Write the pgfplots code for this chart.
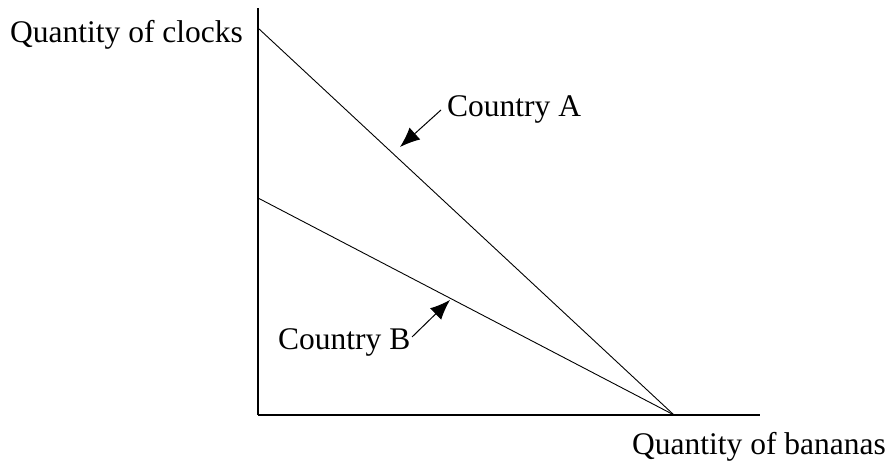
\documentclass[border=0pt]{standalone}
\usepackage{fontspec}
\setmainfont{Liberation Serif}
\usepackage{pgfplots}
\pgfplotsset{compat=1.18}
\usetikzlibrary{arrows.meta}
\begin{document}
\begin{tikzpicture}
\useasboundingbox (0pt,0pt) rectangle (890pt,462pt);
\begin{axis}[
  at={(258pt,47pt)}, anchor=origin,
  scale only axis, width=502pt, height=407pt,
  xmin=0, xmax=502, ymin=0, ymax=407,
  axis lines=left, axis line style={-, line width=1.3pt},
  ticks=none, clip=false,
  font=\fontsize{31.5}{36}\selectfont,
]
\addplot[black, line width=0.9pt, no markers] coordinates {(0,387) (416,0)};
\addplot[black, line width=0.9pt, no markers] coordinates {(0,217) (416,0)};
\draw[line width=1pt, -{Latex[length=20pt,width=16pt]}] (axis cs:183,305) -- (axis cs:142,268);
\draw[line width=1pt, -{Latex[length=20pt,width=16pt]}] (axis cs:154,78) -- (axis cs:192,115);
\node[anchor=base west, inner sep=0pt] at (axis cs:189,298) {Country A};
\node[anchor=base west, inner sep=0pt] at (axis cs:20,65) {Country B};
\node[anchor=base west, inner sep=0pt] at (axis cs:-248,372) {Quantity of clocks};
\node[anchor=base west, inner sep=0pt] at (axis cs:374,-40) {Quantity of bananas};
\end{axis}
\end{tikzpicture}
\end{document}
